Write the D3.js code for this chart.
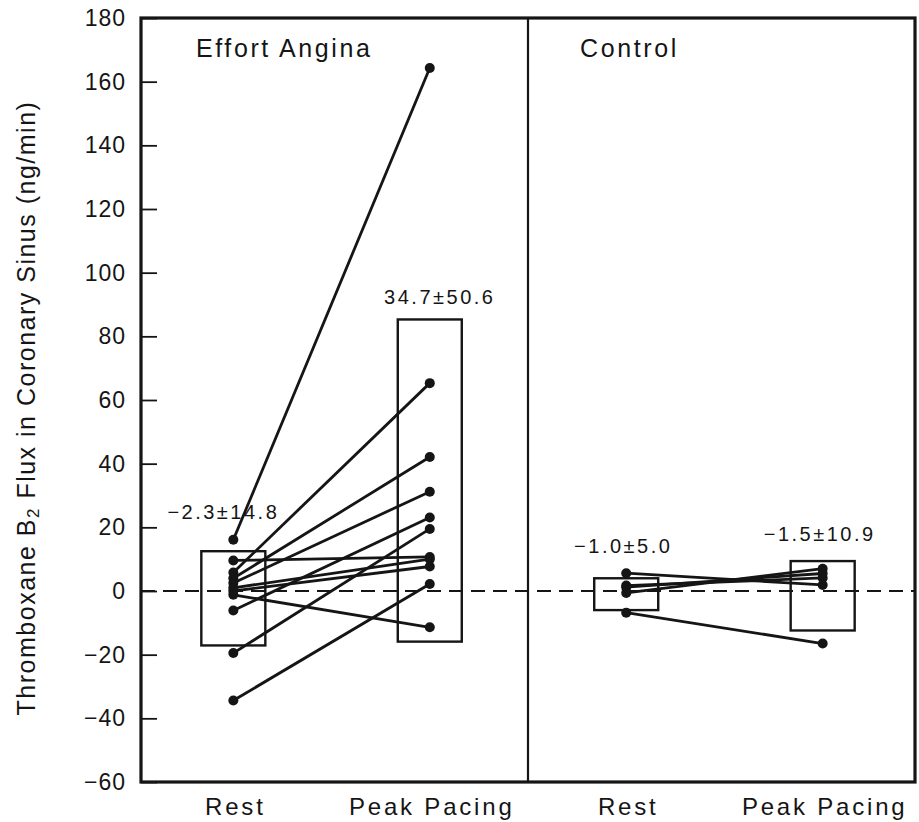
<!DOCTYPE html>
<html>
<head>
<meta charset="utf-8">
<script src="https://cdn.jsdelivr.net/npm/d3@7"></script>
<style>
  body { margin: 0; background: #fff; }
  text { font-family: "Liberation Sans", Arial, sans-serif; fill: #151515; }
</style>
</head>
<body>
<div id="chart"></div>
<script>
// groups along the x axis
var groups = ["eaRest", "eaPeak", "ctRest", "ctPeak"];
var groupLabels = ["Rest", "Peak Pacing", "Rest", "Peak Pacing"];
var panelTitles = ["Effort Angina", "Control"];

// individual patients (rest -> peak pacing), ng/min
var eaRest = [16.1, 9.6, 5.8, 4.0, 2.5, 1.0, 0.0, -1.2, -6.1, -19.5, -34.4];
var eaPeak = [164.3, 10.7, 65.3, 42.1, 31.2, 10.0, 7.7, -11.4, 23.1, 19.5, 2.2];
var ctRest = [5.6, 1.7, 1.2, -0.6, -6.8];
var ctPeak = [1.9, 4.1, 5.5, 7.0, -16.5];

// mean +- SD per group
var means = [-2.3, 34.7, -1.0, -1.5];
var sds = [14.8, 50.6, 5.0, 10.9];
var summaryLabels = ["\u22122.3\u00b114.8", "34.7\u00b150.6", "\u22121.0\u00b15.0", "\u22121.5\u00b110.9"];

var yTicks = [-60, -40, -20, 0, 20, 40, 60, 80, 100, 120, 140, 160, 180];

var width = 919, height = 822;
var margin = {top: 18, right: 4, bottom: 40, left: 141};

var svg = d3.select("#chart").append("svg")
    .attr("width", width)
    .attr("height", height);

var y = d3.scaleLinear().domain([-60, 180]).range([height - margin.bottom, margin.top]);
var x = d3.scalePoint().domain(groups).range([margin.left, width - margin.right]).padding(0.47);

var plotL = margin.left, plotR = width - margin.right;
var plotT = y(180), plotB = y(-60);
var boxW = 64;

/* y axis: ticks point inward */
var yAxis = d3.axisLeft(y).tickValues(yTicks).tickSize(-16)
    .tickFormat(function(d) { return d < 0 ? "\u2212" + Math.abs(d) : d; });
var ax = svg.append("g")
    .attr("transform", "translate(" + plotL + ",0)")
    .call(yAxis);
ax.select(".domain").remove();
ax.selectAll(".tick line").attr("stroke", "#151515").attr("stroke-width", 1.8);
ax.selectAll(".tick text")
    .attr("x", -15)
    .attr("font-size", 23)
    .attr("letter-spacing", 1)
    .attr("fill", "#151515")
    .style("font-family", "'Liberation Sans', Arial, sans-serif");

/* zero line */
svg.append("line")
    .attr("x1", plotL).attr("x2", plotR)
    .attr("y1", y(0)).attr("y2", y(0))
    .attr("stroke", "#151515").attr("stroke-width", 1.8)
    .attr("stroke-dasharray", "14,8");

/* boxes mean +- sd */
svg.selectAll(".box").data(groups).enter().append("rect")
    .attr("class", "box")
    .attr("x", function(d) { return x(d) - boxW / 2; })
    .attr("width", boxW)
    .attr("y", function(d, i) { return y(means[i] + sds[i]); })
    .attr("height", function(d, i) { return y(means[i] - sds[i]) - y(means[i] + sds[i]); })
    .attr("fill", "none")
    .attr("stroke", "#151515")
    .attr("stroke-width", 2.4);

var labelDy = [-32, -15, -25, -20];
svg.selectAll(".summary").data(groups).enter().append("text")
    .attr("class", "summary")
    .attr("x", function(d, i) { return x(d) + (i == 0 ? -10 : (i == 1 ? 10 : -3)); })
    .attr("y", function(d, i) { return y(means[i] + sds[i]) + labelDy[i]; })
    .attr("text-anchor", "middle")
    .attr("font-size", 20)
    .attr("letter-spacing", 2.5)
    .text(function(d, i) { return summaryLabels[i]; });

/* patient lines */
function drawPairs(restVals, peakVals, g0, g1) {
    var pairs = restVals.map(function(v, i) { return [v, peakVals[i]]; });
    svg.selectAll(".pair-" + g0).data(pairs).enter().append("line")
        .attr("x1", x(g0)).attr("x2", x(g1))
        .attr("y1", function(d) { return y(d[0]); })
        .attr("y2", function(d) { return y(d[1]); })
        .attr("stroke", "#151515").attr("stroke-width", 2.8);
    svg.selectAll(".dot-" + g0).data(restVals).enter().append("circle")
        .attr("cx", x(g0)).attr("cy", function(d) { return y(d); })
        .attr("r", 5).attr("fill", "#151515");
    svg.selectAll(".dot-" + g1).data(peakVals).enter().append("circle")
        .attr("cx", x(g1)).attr("cy", function(d) { return y(d); })
        .attr("r", 5).attr("fill", "#151515");
}
drawPairs(eaRest, eaPeak, "eaRest", "eaPeak");
drawPairs(ctRest, ctPeak, "ctRest", "ctPeak");

/* frame and panel divider */
var mid = (x("eaPeak") + x("ctRest")) / 2;
svg.append("line")
    .attr("x1", mid).attr("x2", mid).attr("y1", plotT).attr("y2", plotB)
    .attr("stroke", "#151515").attr("stroke-width", 2.2);
svg.append("rect")
    .attr("x", plotL).attr("y", plotT)
    .attr("width", plotR - plotL).attr("height", plotB - plotT)
    .attr("fill", "none").attr("stroke", "#151515").attr("stroke-width", 3.2);

/* panel titles */
svg.selectAll(".title").data(panelTitles).enter().append("text")
    .attr("class", "title")
    .attr("x", function(d, i) { return i == 0 ? 196 : 580; })
    .attr("y", 57)
    .attr("font-size", 25)
    .attr("letter-spacing", 2.6)
    .text(function(d) { return d; });

/* x labels */
svg.selectAll(".xlab").data(groups).enter().append("text")
    .attr("class", "xlab")
    .attr("x", function(d) { return x(d) + 2; })
    .attr("y", 815)
    .attr("text-anchor", "middle")
    .attr("font-size", 24)
    .attr("letter-spacing", 2.8)
    .text(function(d, i) { return groupLabels[i]; });

/* y axis title */
var yt = svg.append("text")
    .attr("transform", "translate(35," + ((plotT + plotB) / 2 + 8) + ") rotate(-90)")
    .attr("text-anchor", "middle")
    .attr("font-size", 25)
    .attr("letter-spacing", 1.5);
yt.append("tspan").text("Thromboxane B");
yt.append("tspan").attr("font-size", 17).attr("dy", 4).text("2");
yt.append("tspan").attr("dy", -4).text(" Flux in Coronary Sinus (ng/min)");
</script>
</body>
</html>
